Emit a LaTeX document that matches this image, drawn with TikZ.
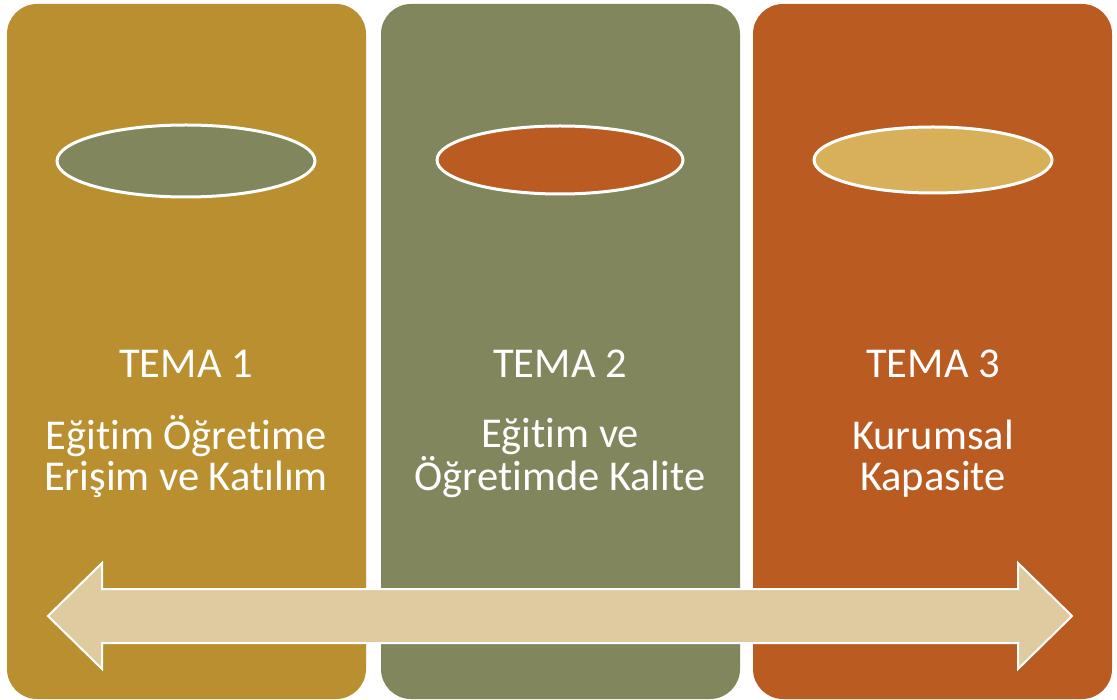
\documentclass[tikz,border=0pt]{standalone}
\usepackage{fontspec}
\setmainfont{Carlito}[RawFeature={-liga}]
\usetikzlibrary{shapes.geometric}
\definecolor{cgold}{HTML}{B98F2F}
\definecolor{colive}{HTML}{82865C}
\definecolor{crust}{HTML}{BA5B22}
\definecolor{csand}{HTML}{D8B05A}
\definecolor{cbeige}{HTML}{E0CBA0}
\tikzset{
  panel/.style={rounded corners=30pt},
  disc/.style={ellipse, draw=white, line width=3pt, inner sep=0pt},
  title/.style={text=white, anchor=base, font=\fontsize{42.5}{40}\selectfont},
  body/.style={text=white, anchor=base, align=center, font=\fontsize{42.5}{40}\selectfont},
}
\begin{document}
\begin{tikzpicture}[x=1pt,y=-1pt]
\useasboundingbox (0,0) rectangle (1117,700);
\fill[white] (0,0) rectangle (1117,700);
\fill[cgold, panel] (7,4) rectangle (366,699);
\fill[colive, panel] (381,4) rectangle (740,699);
\fill[crust, panel] (753,4) rectangle (1112,699);
\node[disc, fill=colive, minimum width=258pt, minimum height=72pt] (e1) at (186,161) {};
\node[disc, fill=crust, minimum width=246pt, minimum height=68pt] (e2) at (560,160) {};
\node[disc, fill=csand, minimum width=238pt, minimum height=66pt] (e3) at (933,160) {};
\node[title] (t1) at (186,378) {TEMA 1};
\node[title] (t2) at (560,378) {TEMA 2};
\node[title] (t3) at (933,378) {TEMA 3};
\node[body] (b1) at (186,490) {Eğitim Öğretime\\Erişim ve Katılım};
\node[body] (b2) at (560,490) {Eğitim ve\\Öğretimde Kalite};
\node[body] (b3) at (933,490) {Kurumsal\\Kapasite};
\draw[fill=cbeige, draw=white, line width=2pt, line join=miter]
  (48,616) -- (102,563) -- (102,589) -- (1018,589) -- (1018,563) -- (1072,616)
  -- (1018,669) -- (1018,643) -- (102,643) -- (102,669) -- cycle;
\end{tikzpicture}
\end{document}
